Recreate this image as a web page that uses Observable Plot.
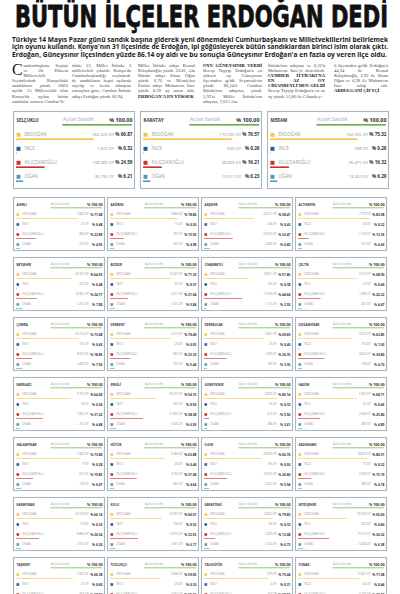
<!DOCTYPE html>
<html><head><meta charset="utf-8">
<script src="https://cdn.jsdelivr.net/npm/d3@7"></script>
<script src="https://cdn.jsdelivr.net/npm/@observablehq/plot@0.6"></script>
<style>
html,body{margin:0;padding:0;background:#fff;width:400px;height:594px;overflow:hidden;}
#page{position:relative;width:400px;height:594px;overflow:hidden;background:#fff;}
.abs{position:absolute;}
.fit{position:absolute;white-space:nowrap;transform-origin:0 0;}
#title{left:15px;top:1px;font-family:'DejaVu Sans Condensed','DejaVu Sans',sans-serif;font-weight:bold;font-size:30.5px;line-height:32px;color:#111;-webkit-text-stroke:0.8px #111;}
.lead{left:12px;font-family:'Open Sans',sans-serif;font-weight:700;font-size:7px;line-height:7.5px;color:#1a1a1a;}
.col{position:absolute;top:63px;font-family:"Liberation Serif",serif;font-size:4.6px;line-height:5.1px;color:#4a4a4a;text-align:justify;}
.col b{font-weight:bold;color:#111;}
.capspace{float:left;width:11.5px;height:14px;}
.dropcap{position:absolute;left:12px;top:61.5px;font-size:16px;line-height:15px;height:15px;font-family:"Liberation Serif",serif;color:#222;}
svg{overflow:visible;}
</style></head>
<body><div id="page">
<div id="title" class="fit" data-w="373">BÜTÜN İLÇELER ERDOĞAN DEDİ</div>
<div class="fit lead" style="top:35.5px" data-w="376">Türkiye 14 Mayıs Pazar günü sandık başına giderek yeni dönemdeki Cumhurbaşkanı ve Milletvekillerini belirlemek</div>
<div class="fit lead" style="top:43px" data-w="376">için oyunu kullandı. Konya'nın 31 ilçesinde de Erdoğan, ipi göğüsleyerek bütün sandıklardan birinci isim olarak çıktı.</div>
<div class="fit lead" style="top:50.5px" data-w="375">Erdoğan, Güneysınır İlçesinden yüzde 86.14 oy aldı ve bu sonuçla Güneysınır Erdoğan'a en fazla oy veren ilçe oldu.</div>
<div class="dropcap">C</div>
<div class="col" style="left:12px;width:56px"><span class="capspace"></span>umhurbaşkanı Seçimi ve 28. Dönem Milletvekili Seçimlerinde Konya'daki sandıkların yüzde 100'ü açıldı. 15 Milletvekili olan Konya'da açılan bütün sandıklar sonucu Cumhur İt-</div>
<div class="col" style="left:72px;width:59px">tifakı 12, Millet İttifakı 3 milletvekili çıkardı. Konya'da Cumhurbaşkanlığı seçiminde de sandıkların hepsi açılarak sayılıp ve kesin olmayan sonuçlara göre; Cumhur İttifakı adayı Erdoğan yüzde 66.94,</div>
<div class="col" style="left:138px;width:57px">Millet İttifakı adayı Kemal Kılıçdaroğlu yüzde 23.01, Ata İttifakı adayı Sinan Oğan yüzde 6.76 ve Memleket Partisi adayı Muharrem İnce yüzde 0.39 oy oranı aldı. <b>ERDOĞAN'A EN YÜKSEK</b></div>
<div class="col" style="left:203px;width:59px"><b>OYU GÜNEYSINIR VERDİ</b> Recep Tayyip Erdoğan'a en yüksek oy Güneysınır ilçesinden geldi. Seçmenlerin yüzde 86,14'ü Cumhur İttifakı'nın adayına, yüzde 5,92'si Millet İttifakı'nın adayına, 3,61'i Ata</div>
<div class="col" style="left:268px;width:57px">İttifakı'nın adayına ve 0,33'ü Muharrem İnce'yi destekledi. <b>CUMHUR İTTİFAKI'NA EN AZ OY CİHANBEYLİ'DEN GELDİ</b> Recep Tayyip Erdoğan'a en az oy yüzde 51,86 ile Cihanbey-</div>
<div class="col" style="left:334px;width:54px">li ilçesinden geldi. Erdoğan'a 44,64 ile Kemal Kılıçdaroğlu, 2,92 ile Sinan Oğan ve 0,38 ile Muharrem İnce takip etti. <b>ABDULGANİ ÇİFTÇİ</b></div>
<div id="big" class="abs" style="left:0;top:111px"></div>
<div id="small" class="abs" style="left:0;top:194px"></div>
</div>
<script>
// ---- data ----
const candidates = ["ERDOĞAN", "İNCE", "KILIÇDAROĞLU", "OĞAN"];
const candidateColors = ["#f6c545", "#1f5e9e", "#cc2f2b", "#519cb4"];

const bigDistricts = ["SELÇUKLU", "KARATAY", "MERAM"];
const bigOpened = [100, 100, 100];
const bigVotes = [
  [262023, 1873, 108083, 36795],
  [173025, 620, 38603, 13071],
  [162035, 598, 35471, 13352]
];
const bigPercents = [
  [66.87, 0.32, 24.59, 6.21],
  [76.57, 0.26, 16.21, 6.23],
  [75.32, 0.26, 16.32, 6.29]
];

const smallDistricts = [
  "AHIRLI", "AKÖREN", "AKŞEHİR", "ALTINEKİN",
  "BEYŞEHİR", "BOZKIR", "CİHANBEYLİ", "ÇELTİK",
  "ÇUMRA", "DERBENT", "DEREBUCAK", "DOĞANHİSAR",
  "EMİRGAZİ", "EREĞLİ", "GÜNEYSINIR", "HADİM",
  "HALKAPINAR", "HÜYÜK", "ILGIN", "KADINHANI",
  "KARAPINAR", "KULU", "SARAYÖNÜ", "SEYDİŞEHİR",
  "TAŞKENT", "TUZLUKÇU", "YALIHÜYÜK", "YUNAK"
];
const smallOpened = [100,100,100,100, 100,100,100,100, 100,100,100,100, 100,100,100,100,
                     100,100,100,100, 100,100,100,100, 100,100,100,100];
const smallVotes = [
  [3082, 21, 984, 213], [3894, 15, 787, 246], [35071, 258, 20097, 4083], [7770, 20, 1143, 410],
  [45307, 337, 16965, 5475], [15327, 80, 4521, 1255], [19811, 145, 17053, 1115], [5013, 29, 1908, 325],
  [33214, 195, 8567, 3409], [2519, 20, 835, 195], [3941, 23, 1490, 189], [9623, 155, 4642, 708],
  [3792, 18, 1850, 265], [39272, 363, 27835, 5026], [6873, 26, 472, 288], [5337, 35, 2004, 380],
  [2382, 9, 641, 196], [6384, 40, 3106, 464], [26093, 195, 10475, 2322], [18823, 75, 3560, 980],
  [22130, 110, 8880, 2095], [25337, 138, 13616, 2581], [14847, 60, 2433, 1252], [30732, 326, 19721, 3464],
  [2302, 21, 954, 191], [3508, 20, 2091, 322], [970, 4, 243, 69], [10081, 62, 3276, 763]
];
const smallPercents = [
  [71.68, 0.48, 22.89, 4.95], [78.80, 0.30, 15.92, 4.98], [58.41, 0.43, 33.47, 6.80], [83.98, 0.22, 12.35, 4.43],
  [64.55, 0.48, 24.17, 7.80], [71.33, 0.37, 21.04, 5.84], [51.86, 0.38, 44.64, 2.92], [68.90, 0.40, 26.22, 4.47],
  [73.08, 0.43, 18.85, 7.50], [70.40, 0.55, 23.33, 5.44], [69.69, 0.40, 26.35, 3.35], [63.85, 1.03, 30.80, 4.70],
  [64.00, 0.30, 31.22, 4.48], [54.15, 0.50, 38.38, 6.93], [86.14, 0.33, 5.92, 3.61], [68.71, 0.45, 25.80, 4.89],
  [73.80, 0.28, 19.85, 6.07], [63.88, 0.40, 31.08, 4.64], [66.76, 0.50, 26.80, 5.94], [80.31, 0.32, 15.19, 4.18],
  [66.14, 0.33, 26.54, 6.26], [60.57, 0.33, 32.55, 6.17], [79.83, 0.32, 13.08, 6.73], [56.60, 0.60, 36.32, 6.38],
  [66.38, 0.60, 27.50, 5.52], [59.05, 0.33, 35.20, 5.42], [75.44, 0.31, 18.90, 5.35], [71.08, 0.44, 23.10, 5.38]
];

// ---- fit headline / lead lines to their measured column width ----
document.querySelectorAll(".fit").forEach(el => {
  const target = +el.dataset.w;
  const w = el.getBoundingClientRect().width;
  if (w > 0) el.style.transform = `scaleX(${target / w})`;
});

// ---- helpers ----
const trLocale = d3.formatLocale({decimal: ",", thousands: ".", grouping: [3], currency: ["", ""]});
const fmtInt = trLocale.format(",d");
const fmtPct = d3.format(".2f");
const headStart = 40;

function buildData(names, opened, votes, pcts, cols) {
  const all = [];
  names.forEach((name, i) => {
    const col = i % cols, row = Math.floor(i / cols);
    all.push({kind: "head", name, col, row, band: "head", opened: opened[i]});
    candidates.forEach((cand, j) => {
      all.push({kind: "cand", name, col, row, band: cand, cand, votes: votes[i][j], pct: pcts[i][j]});
    });
  });
  return all;
}

function panels(names, opened, votes, pcts, cols, s) {
  const all = buildData(names, opened, votes, pcts, cols);
  const nRows = Math.ceil(names.length / cols);
  const isHead = d => d.kind === "head";
  const isCand = d => d.kind === "cand";
  return Plot.plot({
    width: 400,
    height: s.height,
    marginLeft: 12, marginRight: 12, marginTop: 0, marginBottom: 0,
    facet: {data: all, x: "col", y: "row", marginTop: 0, marginRight: 0, marginBottom: 0, marginLeft: 0},
    fx: {axis: null, domain: d3.range(cols), paddingInner: s.padX, paddingOuter: 0},
    fy: {axis: null, domain: d3.range(nRows), paddingInner: s.padY, paddingOuter: 0},
    x: {axis: null, domain: [0, 100], insetLeft: 3, insetRight: 2},
    y: {axis: null, type: "band", domain: ["head", ...candidates], paddingInner: 0, paddingOuter: 0, insetBottom: s.insetBottom},
    color: {domain: candidates, range: candidateColors},
    style: {fontFamily: "'Open Sans', sans-serif", overflow: "visible", background: "transparent"},
    marks: [
      Plot.frame({stroke: "#aeb5be", strokeWidth: 1.1}),
      Plot.text(all, {filter: isHead, x: () => 0, y: "band", text: "name", textAnchor: "start",
        fontWeight: "bold", fontSize: s.nameSize, fill: "#3b3b3b", dy: s.headDy}),
      Plot.text(all, {filter: isHead, x: () => headStart, y: "band", text: () => "Açılan Sandık", textAnchor: "start",
        fontSize: s.openSize, fill: "#a8a8a8", dy: s.headDy - 0.5}),
      Plot.text(all, {filter: isHead, x: () => 100, y: "band", text: d => "% " + fmtPct(d.opened), textAnchor: "end",
        fontWeight: "bold", fontSize: s.openPctSize, fill: "#333", dy: s.headDy - 0.5}),
      Plot.barX(all, {filter: isHead, x1: () => headStart, x2: d => headStart + (100 - headStart) * d.opened / 100,
        y: "band", fill: "#62b04e", insetTop: s.gTop, insetBottom: s.gBot}),
      Plot.barX(all, {filter: isCand, x1: () => 0, x2: "pct", y: "band", fill: "cand",
        insetTop: s.bTop, insetBottom: s.bBot}),
      Plot.dot(all, {filter: isCand, x: () => 0, y: "band", fill: "cand", symbol: "square",
        r: s.sq / Math.sqrt(Math.PI), dx: s.sq / 2, dy: s.candDy}),
      Plot.text(all, {filter: isCand, x: () => 0, y: "band", text: "cand", textAnchor: "start",
        dx: s.labelDx, dy: s.candDy, fontSize: s.labelSize, fill: "#9e9e9e"}),
      Plot.text(all, {filter: isCand, x: () => 100, y: "band", text: d => fmtInt(d.votes) + " OY", textAnchor: "end",
        dx: s.votesDx, dy: s.candDy, fontSize: s.votesSize, fill: "#8c8c8c"}),
      Plot.text(all, {filter: isCand, x: () => 100, y: "band", text: d => "% " + fmtPct(d.pct), textAnchor: "end",
        fontWeight: "bold", dy: s.candDy, fontSize: s.pctSize, fill: "#333"})
    ]
  });
}

document.getElementById("big").append(panels(bigDistricts, bigOpened, bigVotes, bigPercents, 3, {
  height: 77, padX: 0.051, padY: 0, insetBottom: 5,
  nameSize: 4.4, openSize: 5, openPctSize: 5.4, labelSize: 4.6, votesSize: 4.1, pctSize: 4.6,
  headDy: 0.8, candDy: 1.3, gTop: 12, gBot: 0.4, bTop: 12.4, bBot: 0,
  sq: 4, labelDx: 8, votesDx: -18.5
}));

document.getElementById("small").append(panels(smallDistricts, smallOpened, smallVotes, smallPercents, 4, {
  height: 419, padX: 0.0282, padY: 0.112, insetBottom: 0,
  nameSize: 3.1, openSize: 3, openPctSize: 3.6, labelSize: 3, votesSize: 2.8, pctSize: 3.3,
  headDy: 0.5, candDy: 0, gTop: 8.5, gBot: 0.8, bTop: 9.4, bBot: 0,
  sq: 2.6, labelDx: 5.7, votesDx: -14
}));
</script>
</body></html>
